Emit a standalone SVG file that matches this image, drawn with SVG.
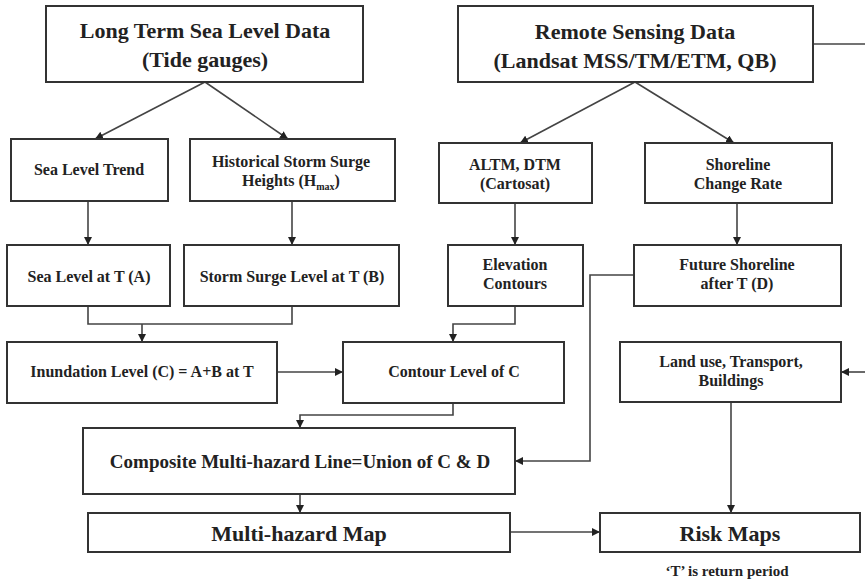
<svg xmlns="http://www.w3.org/2000/svg" width="865" height="581" viewBox="0 0 865 581">
  <defs>
    <marker id="arrow" viewBox="0 0 10 10" refX="10" refY="5" markerWidth="8" markerHeight="8" markerUnits="userSpaceOnUse" orient="auto">
      <path d="M0,0 L10,5 L0,10 Z" fill="#222"/>
    </marker>
  </defs>
  <style>
    .box { fill: #fff; stroke: #333; stroke-width: 2; }
    .link { fill: none; stroke: #444; stroke-width: 1.6; }
    .arr { marker-end: url(#arrow); }
    text { font-family: "Liberation Serif", "Times New Roman", serif; font-weight: bold; fill: #222; text-anchor: middle; }
    .big { font-size: 22px; }
    .mid { font-size: 19px; }
    .sm { font-size: 16px; }
    .sub { font-size: 10px; }
  </style>
  <rect width="865" height="581" fill="#fff"/>

  <!-- connectors -->
  <g id="connectors">
    <path class="link arr" d="M205,82 L95,139"/>
    <path class="link arr" d="M205,82 L288,139"/>
    <path class="link arr" d="M635,82 L520,143"/>
    <path class="link arr" d="M635,82 L734,143"/>
    <path class="link" d="M813,44 L865,44"/>
    <path class="link arr" d="M88,201 L88,245"/>
    <path class="link arr" d="M292,201 L292,245"/>
    <path class="link arr" d="M515,203 L515,245"/>
    <path class="link arr" d="M737,203 L737,245"/>
    <path class="link" d="M88,306 L88,324 L292,324 L292,306"/>
    <path class="link arr" d="M142,324 L142,342"/>
    <path class="link arr" d="M515,306 L515,324 L453,324 L453,342"/>
    <path class="link arr" d="M277,372 L343,372"/>
    <path class="link arr" d="M453,403 L453,415 L300,415 L300,428"/>
    <path class="link arr" d="M634,275 L590,275 L590,461 L515,461"/>
    <path class="link arr" d="M865,372 L841,372"/>
    <path class="link arr" d="M731,402 L731,513"/>
    <path class="link arr" d="M300,494 L300,513"/>
    <path class="link arr" d="M510,532 L600,532"/>
  </g>

  <g id="long-term-sea-level">
    <rect class="box" x="46" y="6" width="317" height="76"/>
    <text class="big" x="205" y="38">Long Term Sea Level Data</text>
    <text class="big" x="205" y="67">(Tide gauges)</text>
  </g>
  <g id="remote-sensing">
    <rect class="box" x="458" y="6" width="355" height="76"/>
    <text class="big" x="635" y="39">Remote Sensing Data</text>
    <text class="big" x="635" y="68">(Landsat MSS/TM/ETM, QB)</text>
  </g>
  <g id="sea-level-trend">
    <rect class="box" x="11" y="139" width="157" height="62"/>
    <text class="sm" x="89" y="175">Sea Level Trend</text>
  </g>
  <g id="storm-surge-heights">
    <rect class="box" x="190" y="139" width="205" height="62"/>
    <text class="sm" x="291" y="167">Historical Storm Surge</text>
    <text class="sm" x="291" y="186">Heights (H<tspan class="sub" dy="4">max</tspan><tspan dy="-4">)</tspan></text>
  </g>
  <g id="altm-dtm">
    <rect class="box" x="439" y="143" width="153" height="60"/>
    <text class="sm" x="515" y="170">ALTM, DTM</text>
    <text class="sm" x="515" y="189">(Cartosat)</text>
  </g>
  <g id="shoreline-change">
    <rect class="box" x="645" y="143" width="187" height="60"/>
    <text class="sm" x="738" y="170">Shoreline</text>
    <text class="sm" x="738" y="189">Change Rate</text>
  </g>
  <g id="sea-level-at-t">
    <rect class="box" x="7" y="245" width="163" height="61"/>
    <text class="sm" x="89" y="282">Sea Level at T (A)</text>
  </g>
  <g id="storm-surge-level">
    <rect class="box" x="184" y="245" width="215" height="61"/>
    <text class="sm" x="292" y="282">Storm Surge Level at T (B)</text>
  </g>
  <g id="elevation-contours">
    <rect class="box" x="448" y="245" width="135" height="61"/>
    <text class="sm" x="515" y="270">Elevation</text>
    <text class="sm" x="515" y="289">Contours</text>
  </g>
  <g id="future-shoreline">
    <rect class="box" x="634" y="245" width="207" height="61"/>
    <text class="sm" x="737" y="270">Future Shoreline</text>
    <text class="sm" x="737" y="289">after T (D)</text>
  </g>
  <g id="inundation-level">
    <rect class="box" x="7" y="342" width="270" height="61"/>
    <text class="sm" x="142" y="377">Inundation Level (C) = A+B at T</text>
  </g>
  <g id="contour-level">
    <rect class="box" x="343" y="342" width="221" height="61"/>
    <text class="sm" x="454" y="377">Contour Level of C</text>
  </g>
  <g id="land-use">
    <rect class="box" x="620" y="342" width="221" height="60"/>
    <text class="sm" x="731" y="367">Land use, Transport,</text>
    <text class="sm" x="731" y="386">Buildings</text>
  </g>
  <g id="composite-line">
    <rect class="box" x="83" y="428" width="432" height="66"/>
    <text class="mid" x="300" y="468">Composite Multi-hazard Line=Union of C &amp; D</text>
  </g>
  <g id="multi-hazard-map">
    <rect class="box" x="88" y="513" width="422" height="39"/>
    <text class="big" x="299" y="541">Multi-hazard Map</text>
  </g>
  <g id="risk-maps">
    <rect class="box" x="600" y="513" width="260" height="39"/>
    <text class="big" x="730" y="541">Risk Maps</text>
  </g>
  <text class="sm" x="727" y="576" style="font-size:15px">‘T’ is return period</text>
</svg>
